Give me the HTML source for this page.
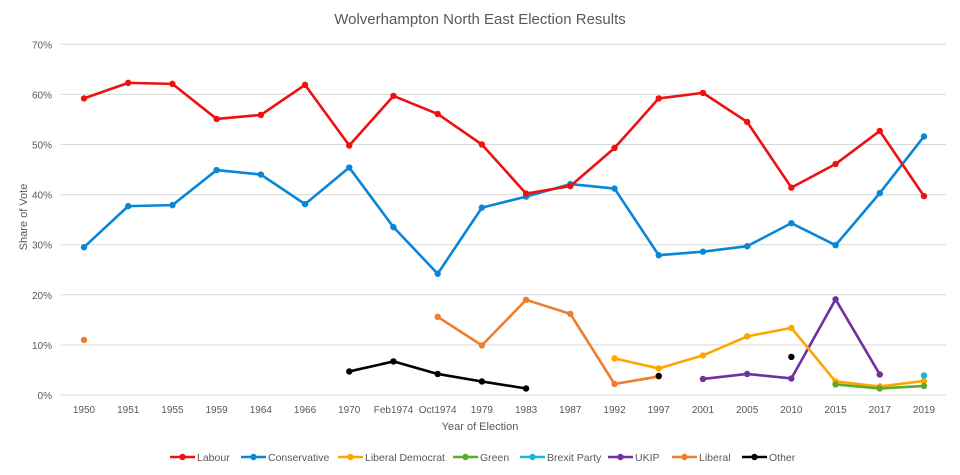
<!DOCTYPE html>
<html><head><meta charset="utf-8"><style>
html,body{margin:0;padding:0;background:#fff;}
svg{display:block;font-family:"Liberation Sans",sans-serif;}
</style></head><body>
<svg id="c" width="960" height="475" xmlns="http://www.w3.org/2000/svg">
<rect x="0" y="0" width="960" height="475" fill="#fff"/>
<text x="480" y="24" text-anchor="middle" font-size="15" fill="#595959">Wolverhampton North East Election Results</text>
<text x="480" y="430" text-anchor="middle" font-size="11" fill="#595959">Year of Election</text>
<text transform="translate(27,217) rotate(-90)" text-anchor="middle" font-size="11" fill="#595959">Share of Vote</text>
<g id="g"></g>
</svg>
<script>
var svg=document.getElementById('g'),NS="http://www.w3.org/2000/svg";
function el(t,a,txt){var e=document.createElementNS(NS,t);for(var k in a)e.setAttribute(k,a[k]);if(txt!==undefined)e.textContent=txt;svg.appendChild(e);return e;}
var X0=84,DX=44.21,Y0=395,PY=5.01;
function X(i){return X0+i*DX;}function Y(v){return Y0-v*PY;}
for(var p=0;p<=70;p+=10){el('line',{x1:61,x2:946,y1:Y(p),y2:Y(p),stroke:'#d9d9d9','stroke-width':1});
el('text',{x:52,y:Y(p)+4,'text-anchor':'end','font-size':10,fill:'#595959'},p+'%');}
var cats=['1950','1951','1955','1959','1964','1966','1970','Feb1974','Oct1974','1979','1983','1987','1992','1997','2001','2005','2010','2015','2017','2019'];
cats.forEach(function(c,i){el('text',{x:X(i),y:413,'text-anchor':'middle','font-size':10,fill:'#595959'},c);});
function series(col,segs){segs.forEach(function(s){var st=s[0],v=s[1];
if(v.length>1){var pts=v.map(function(y,j){return X(st+j)+','+Y(y);}).join(' ');
el('polyline',{points:pts,fill:'none',stroke:col,'stroke-width':2.6,'stroke-linejoin':'round'});}
v.forEach(function(y,j){el('circle',{cx:X(st+j),cy:Y(y),r:3.2,fill:col});});});}
series('#ed7d31',[[0,[11.0]],[8,[15.6,9.9,19.0,16.2,2.2,3.7]]]);
series('#000000',[[6,[4.7,6.7,4.2,2.7,1.3]],[13,[3.8]],[16,[7.6]]]);
series('#7030a0',[[14,[3.2,4.2,3.3,19.1,4.1]]]);
series('#ffa500',[[12,[7.3,5.3,7.9,11.7,13.4,2.7,1.7,2.8]]]);
series('#5aac28',[[17,[2.1,1.3,1.8]]]);
series('#1cb4d8',[[19,[3.9]]]);
series('#0a86d6',[[0,[29.5,37.7,37.9,44.9,44.0,38.1,45.4,33.5,24.2,37.4,39.6,42.1,41.2,27.9,28.6,29.7,34.3,29.9,40.3,51.6]]]);
series('#ee1111',[[0,[59.2,62.3,62.1,55.1,55.9,61.9,49.8,59.7,56.1,50.0,40.2,41.7,49.3,59.2,60.3,54.5,41.4,46.1,52.7,39.7]]]);
var leg=[['Labour','#ee1111',170],['Conservative','#0a86d6',241],['Liberal Democrat','#ffa500',338],['Green','#5aac28',453],['Brexit Party','#1cb4d8',520],['UKIP','#7030a0',608],['Liberal','#ed7d31',672],['Other','#000000',742]];
leg.forEach(function(l){el('line',{x1:l[2],x2:l[2]+25,y1:457,y2:457,stroke:l[1],'stroke-width':2.6});
el('circle',{cx:l[2]+12.5,cy:457,r:3.2,fill:l[1]});
el('text',{x:l[2]+27,y:461,'font-size':10.5,fill:'#595959'},l[0]);});
</script>
</body></html>
